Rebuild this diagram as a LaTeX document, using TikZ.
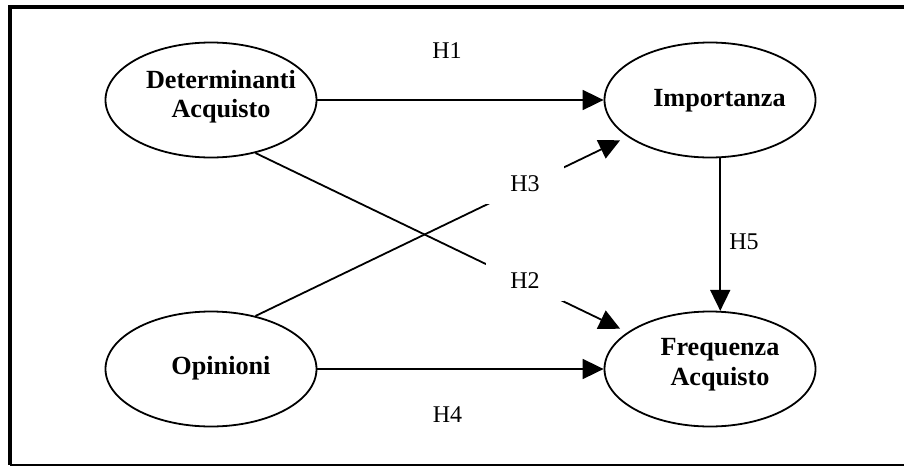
\documentclass[tikz,border=0pt]{standalone}
\usepackage{fontspec}
\setmainfont{Liberation Serif}
\usetikzlibrary{shapes.geometric,arrows.meta}
\begin{document}
\begin{tikzpicture}[x=0.5pt,y=-0.5pt,
  construct/.style={ellipse,draw,line width=0.9pt,minimum width=105.5pt,minimum height=57.5pt,inner sep=0pt},
  ctext/.style={font=\fontsize{13.1}{14.75}\selectfont\bfseries,align=center,inner sep=0pt},
  hyp/.style={font=\fontsize{12}{14}\selectfont,inner sep=0pt},
  hypmask/.style={hyp,fill=white,minimum width=39pt,minimum height=20pt},
  link/.style={line width=0.9pt,-{Triangle[length=10.5pt,width=10pt]}},
  frameline/.style={line width=2pt}]
\useasboundingbox (0,0) rectangle (904,466);

% outer frame
\draw[frameline] (9.6,465) -- (9.6,7) -- (904,7);
\draw[line width=0.75pt] (9.6,464.8) -- (904,464.8);

% constructs
\node[construct] (det) at (211,100) {};
\node[construct] (imp) at (710,100) {};
\node[construct] (opi) at (211,369) {};
\node[construct] (fre) at (710,369) {};

\node[ctext] (detT) at (221,96.5) {Determinanti\\Acquisto};
\node[ctext] (impT) at (719.5,101) {Importanza};
\node[ctext] (opiT) at (221,368) {Opinioni};
\node[ctext] (freT) at (720,364.7) {Frequenza\\Acquisto};

% hypotheses
\draw[link] (det.east) -- (imp.west);
\draw[link] (opi.east) -- (fre.west);
\draw[link] (imp.-80) -- (fre.80);
\draw[link,shorten >=4pt] (opi.50) -- (imp.204);
\draw[link,shorten >=4pt] (det.-50) -- (fre.156);

\node[hyp] (h1) at (447,51) {H1};
\node[hyp] (h4) at (447.5,414.5) {H4};
\node[hyp] (h5) at (744,241.5) {H5};
\node[hypmask] (h3) at (525,184) {H3};
\node[hypmask] (h2) at (525,281) {H2};
\end{tikzpicture}
\end{document}
